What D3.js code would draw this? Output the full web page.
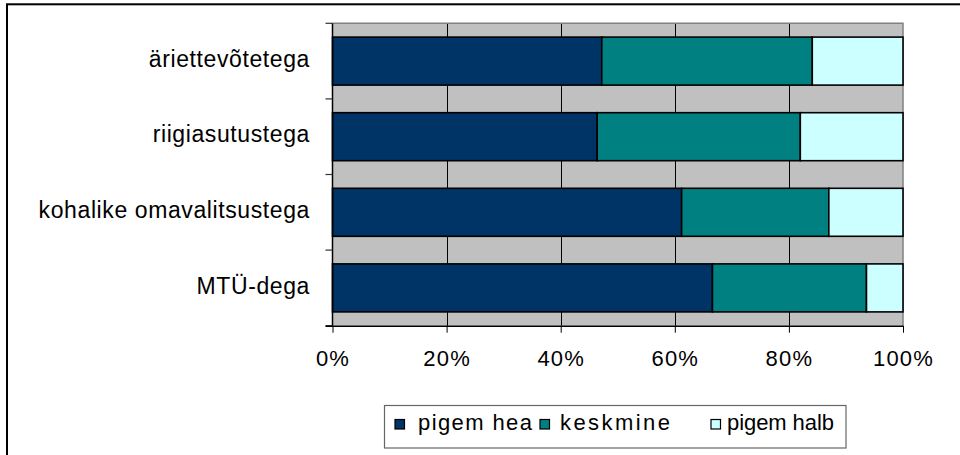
<!DOCTYPE html>
<html><head><meta charset="utf-8">
<script src="https://cdn.jsdelivr.net/npm/d3@7"></script>
<style>
html,body{margin:0;padding:0;background:#fff;}
svg{display:block;font-family:"Liberation Sans",Arial,sans-serif;}
</style></head>
<body>
<script>
const categories = ["äriettevõtetega", "riigiasutustega", "kohalike omavalitsustega", "MTÜ-dega"];
const seriesNames = ["pigem hea", "keskmine", "pigem halb"];
const pigemHea = [47.2, 46.4, 61.2, 66.6];
const keskmine = [36.9, 35.6, 25.8, 27.0];
const pigemHalb = [15.9, 18.0, 13.0, 6.4];
const tickValues = [0, 20, 40, 60, 80, 100];
const tickLabels = ["0%", "20%", "40%", "60%", "80%", "100%"];
const colors = ["#003366", "#008080", "#CCFFFF"];

const W = 960, H = 455;
const svg = d3.select("body").append("svg").attr("width", W).attr("height", H);

// outer frame
svg.append("rect").attr("x", 7).attr("y", 4.3).attr("width", 1000).attr("height", 500)
  .attr("fill", "none").attr("stroke", "#000").attr("stroke-width", 2);

const plot = {left: 332.5, right: 903, top: 23.3, bottom: 325.7};
const x = d3.scaleLinear().domain([0, 100]).range([plot.left, plot.right]);
const y = d3.scaleBand().domain(categories).range([plot.top, plot.bottom])
  .paddingInner(0.365).paddingOuter(0.1825);

// plot background
svg.append("rect").attr("x", plot.left).attr("y", plot.top)
  .attr("width", plot.right - plot.left).attr("height", plot.bottom - plot.top)
  .attr("fill", "#C0C0C0");

// gridlines
svg.append("g").selectAll("line").data(tickValues.slice(1, -1)).join("line")
  .attr("x1", d => Math.round(x(d)) + 0.5).attr("x2", d => Math.round(x(d)) + 0.5)
  .attr("y1", plot.top).attr("y2", plot.bottom)
  .attr("stroke", "#000").attr("stroke-width", 1);

// plot border (top/right gray)
svg.append("path")
  .attr("d", `M${plot.left},${plot.top} H${plot.right} V${plot.bottom}`)
  .attr("fill", "none").attr("stroke", "#808080").attr("stroke-width", 1.5);

// stacked data
const rows = categories.map((c, i) => ({cat: c, "pigem hea": pigemHea[i], "keskmine": keskmine[i], "pigem halb": pigemHalb[i]}));
const stack = d3.stack().keys(seriesNames)(rows);

svg.append("g").selectAll("g").data(stack).join("g")
  .attr("fill", (d, i) => colors[i])
  .selectAll("rect").data(d => d).join("rect")
  .attr("x", d => x(d[0]))
  .attr("y", d => y(d.data.cat))
  .attr("width", d => x(d[1]) - x(d[0]))
  .attr("height", y.bandwidth())
  .attr("stroke", "#000").attr("stroke-width", 1.6);

// y axis
svg.append("line").attr("x1", plot.left).attr("x2", plot.left)
  .attr("y1", plot.top).attr("y2", plot.bottom).attr("stroke", "#000").attr("stroke-width", 1.5);
const boundaries = categories.map(c => y(c) - y.step() * y.paddingInner() / 2).concat([plot.bottom]);
svg.append("g").selectAll("line").data(boundaries).join("line")
  .attr("x1", plot.left - 7).attr("x2", plot.left)
  .attr("y1", d => d).attr("y2", d => d)
  .attr("stroke", "#333").attr("stroke-width", 1.2);

svg.append("g").selectAll("text").data(categories).join("text")
  .attr("x", 310).attr("y", d => y(d) + y.bandwidth() / 2)
  .attr("dy", "0.25em")
  .attr("text-anchor", "end")
  .attr("font-size", 23).attr("letter-spacing", "0.6px")
  .attr("fill", "#000")
  .text(d => d);

// x axis
const xAxis = d3.axisBottom(x).tickValues(tickValues)
  .tickFormat((d, i) => tickLabels[i]).tickSize(7).tickPadding(18);
const gx = svg.append("g").attr("transform", `translate(0,${plot.bottom})`).call(xAxis);
gx.select(".domain").attr("stroke", "#000").attr("stroke-width", 1.5).attr("d", `M${plot.left - 7},0.5H${plot.right}`);
gx.selectAll(".tick line").attr("stroke", "#000");
gx.selectAll(".tick text").attr("font-size", 22).attr("letter-spacing", "1.2px")
  .attr("font-family", "Liberation Sans, Arial, sans-serif").attr("fill", "#000");

// legend
const lg = svg.append("g");
lg.append("rect").attr("x", 384.5).attr("y", 405.5).attr("width", 461.5).attr("height", 42.5)
  .attr("fill", "#fff").attr("stroke", "#666").attr("stroke-width", 1.2);
const legSquareX = [395, 540, 711];
const legTextX = [418, 560, 727];
const legTextW = [114, 110, 107];
const items = lg.selectAll("g").data(seriesNames).join("g");
items.append("rect").attr("x", (d, i) => legSquareX[i]).attr("y", 419.5).attr("width", 9.5).attr("height", 9.5)
  .attr("fill", (d, i) => colors[i]).attr("stroke", "#000").attr("stroke-width", 1.2);
items.append("text").attr("x", (d, i) => legTextX[i]).attr("y", 429.5)
  .attr("font-size", 22).attr("fill", "#000")
  .attr("textLength", (d, i) => legTextW[i]).attr("lengthAdjust", "spacing")
  .text(d => d);
</script>
</body></html>
